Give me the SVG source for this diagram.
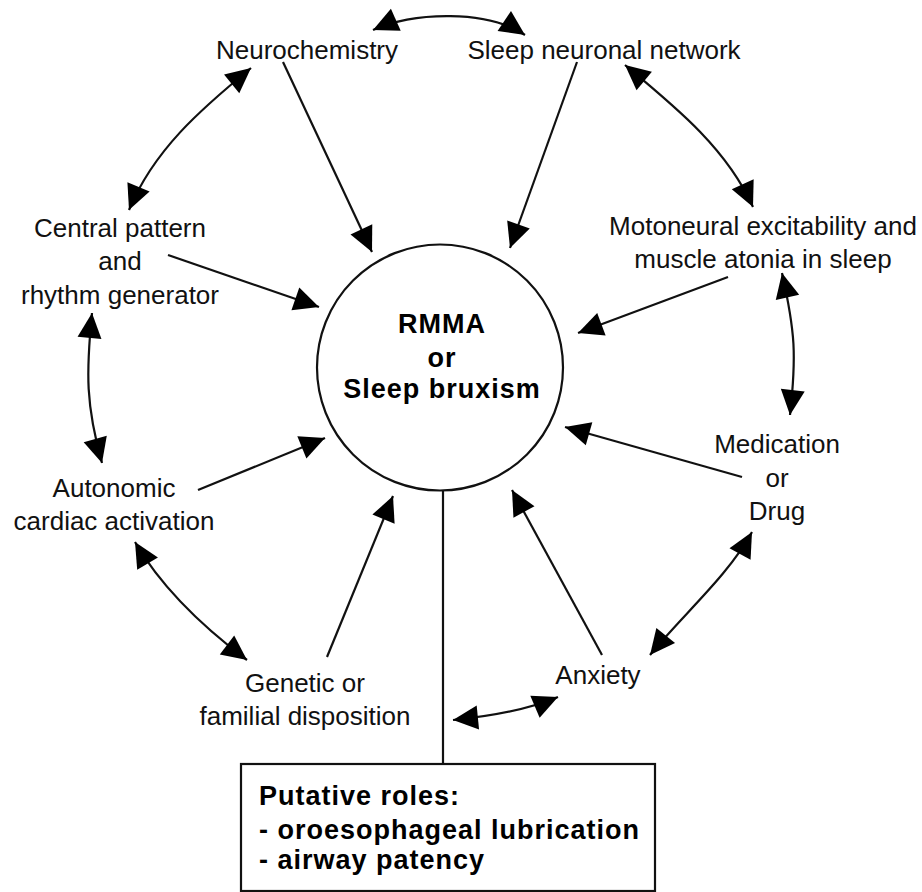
<svg xmlns="http://www.w3.org/2000/svg" width="922" height="892" viewBox="0 0 922 892">
<style>
.lbl{font-family:"Liberation Sans",Arial,sans-serif;font-size:26px;fill:#111;text-anchor:middle}
.bold{font-family:"Liberation Sans",Arial,sans-serif;font-size:27px;font-weight:bold;fill:#000;letter-spacing:1px}
.con{fill:none;stroke:#111;stroke-width:2.2}
.shape{fill:#fff;stroke:#111;stroke-width:2.2}
</style>
<defs>
<marker id="ah" markerUnits="userSpaceOnUse" markerWidth="30" markerHeight="30" refX="0" refY="0" orient="auto-start-reverse" overflow="visible">
<path d="M0,0 L-25,-12 L-25,12 Z" fill="#000"/>
</marker>
</defs>
<rect width="922" height="892" fill="#fff"/>

<g id="connectors">
<path class="con" d="M373,30 C414.1,11.6 487.4,9.6 525,35" marker-start="url(#ah)" marker-end="url(#ah)"/>
<path class="con" d="M251,68 C201,109 153.7,150 129,210" marker-start="url(#ah)" marker-end="url(#ah)"/>
<path class="con" d="M92,313 C86,373 85.8,405.4 102,463" marker-start="url(#ah)" marker-end="url(#ah)"/>
<path class="con" d="M135,542 C162.5,589.3 203,627 247,660" marker-start="url(#ah)" marker-end="url(#ah)"/>
<path class="con" d="M453,720 C488,716.5 525.8,710.6 558,697" marker-start="url(#ah)" marker-end="url(#ah)"/>
<path class="con" d="M752,532 C728,576 681.5,616 650,655" marker-start="url(#ah)" marker-end="url(#ah)"/>
<path class="con" d="M782,273 C795.2,331.8 796.6,355.6 790,415" marker-start="url(#ah)" marker-end="url(#ah)"/>
<path class="con" d="M625,65 C675,106.6 726.3,147.8 753,207" marker-start="url(#ah)" marker-end="url(#ah)"/>
<line class="con" x1="283" y1="62" x2="372" y2="252" marker-end="url(#ah)"/>
<line class="con" x1="577" y1="62" x2="510" y2="248" marker-end="url(#ah)"/>
<line class="con" x1="168" y1="255" x2="319" y2="307" marker-end="url(#ah)"/>
<line class="con" x1="728" y1="277" x2="578" y2="333" marker-end="url(#ah)"/>
<line class="con" x1="198" y1="490" x2="325" y2="438" marker-end="url(#ah)"/>
<line class="con" x1="742" y1="477" x2="565" y2="427" marker-end="url(#ah)"/>
<line class="con" x1="327" y1="657" x2="393" y2="496" marker-end="url(#ah)"/>
<line class="con" x1="602" y1="655" x2="512" y2="490" marker-end="url(#ah)"/>
<line class="con" x1="443" y1="490" x2="443" y2="764"/>
</g>

<g id="center">
<circle class="shape" cx="440" cy="367.5" r="123"/>
<text class="bold" x="442" y="333" text-anchor="middle">RMMA</text>
<text class="bold" x="442" y="367" text-anchor="middle">or</text>
<text class="bold" x="442" y="398" text-anchor="middle">Sleep bruxism</text>
</g>

<g id="roles">
<rect class="shape" x="241" y="764" width="414" height="127"/>
<text class="bold" x="259" y="805">Putative roles:</text>
<text class="bold" x="259" y="839">- oroesophageal lubrication</text>
<text class="bold" x="259" y="869">- airway patency</text>
</g>

<g id="neurochemistry"><text class="lbl" x="307" y="59">Neurochemistry</text></g>
<g id="sleep-network"><text class="lbl" x="604" y="59">Sleep neuronal network</text></g>
<g id="cpg">
<text class="lbl" x="120" y="237">Central pattern</text>
<text class="lbl" x="120" y="270">and</text>
<text class="lbl" x="120" y="304">rhythm generator</text>
</g>
<g id="motoneural">
<text class="lbl" x="763" y="235">Motoneural excitability and</text>
<text class="lbl" x="763" y="268">muscle atonia in sleep</text>
</g>
<g id="medication">
<text class="lbl" x="777" y="453">Medication</text>
<text class="lbl" x="777" y="487">or</text>
<text class="lbl" x="777" y="520">Drug</text>
</g>
<g id="autonomic">
<text class="lbl" x="114" y="497">Autonomic</text>
<text class="lbl" x="114" y="530">cardiac activation</text>
</g>
<g id="genetic">
<text class="lbl" x="305" y="692">Genetic or</text>
<text class="lbl" x="305" y="725">familial disposition</text>
</g>
<g id="anxiety"><text class="lbl" x="598" y="684">Anxiety</text></g>
</svg>
